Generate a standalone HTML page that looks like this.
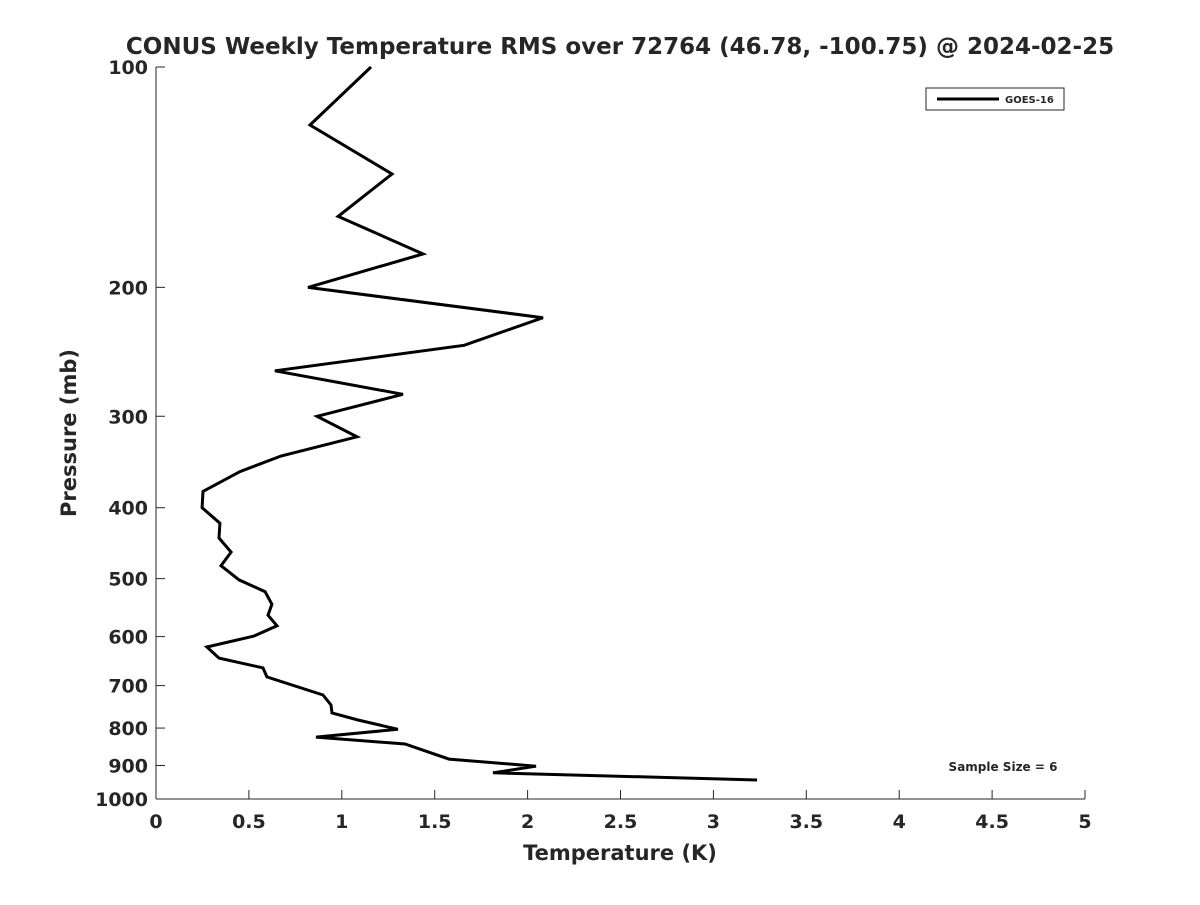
<!DOCTYPE html>
<html><head><meta charset="utf-8"><style>
body{margin:0;background:#fff;}
svg text{font-family:"DejaVu Sans","Liberation Sans",sans-serif;font-weight:bold;fill:#262626;}
</style></head><body>
<svg width="1200" height="900">
<rect width="1200" height="900" fill="#fff"/>
<g id="g"></g>
</svg>
<script>
const temps=[1.157,0.829,1.270,0.980,1.437,0.818,2.083,1.658,0.640,1.329,0.867,1.082,0.673,0.452,0.253,0.248,0.344,0.339,0.404,0.350,0.447,0.587,0.624,0.603,0.651,0.527,0.274,0.339,0.576,0.597,0.899,0.942,0.947,1.087,1.302,0.861,1.340,1.577,2.045,1.814,3.235];
const pressures=[100,120,140,160,180,200,220,240,260,280,300,320,340,357,380,400,420,440,460,480,502,521,542,561,580,599,620,642,662,681,721,744,763,780,803,823,841,882,902,921,942];
const xTicks=[0,0.5,1,1.5,2,2.5,3,3.5,4,4.5,5];
const xTickLabels=["0","0.5","1","1.5","2","2.5","3","3.5","4","4.5","5"];
const yTicks=[100,200,300,400,500,600,700,800,900,1000];
const yTickLabels=["100","200","300","400","500","600","700","800","900","1000"];
const L=156,R=1085,T=67,B=799;
function xs(v){return L+(v/5)*(R-L);}
function ys(p){return T+Math.log10(p/100)*(B-T);}
const NS="http://www.w3.org/2000/svg";
const g=document.getElementById('g');
function mk(tag,attrs,txt){const e=document.createElementNS(NS,tag);for(const k in attrs)e.setAttribute(k,attrs[k]);if(txt!==undefined)e.textContent=txt;g.appendChild(e);return e;}
let e;
e=mk('line',{x1:L,y1:T,x2:L,y2:B,stroke:'#262626','stroke-width':1});


e=mk('line',{x1:L,y1:B,x2:R,y2:B,stroke:'#262626','stroke-width':1});


xTicks.forEach((v,i)=>{
 const x=xs(v);
 e=mk('line',{x1:x,y1:B,x2:x,y2:B-9,stroke:'#262626','stroke-width':1});
 
 
 e=mk('text',{x:x,y:B+29,'text-anchor':'middle','font-size':19},xTickLabels[i]);
 
 
});
yTicks.forEach((p,i)=>{
 const y=ys(p);
 e=mk('line',{x1:L,y1:y,x2:L+9,y2:y,stroke:'#262626','stroke-width':1});
 
 
 e=mk('text',{x:L-8,y:y+7,'text-anchor':'end','font-size':19},yTickLabels[i]);
 
 
});
const pts=temps.map((t,i)=>xs(t).toFixed(1)+','+ys(pressures[i]).toFixed(1)).join(' ');
e=mk('polyline',{points:pts,fill:'none',stroke:'#000','stroke-width':3,'stroke-linejoin':'miter'});


e=mk('text',{x:620,y:54,'text-anchor':'middle','font-size':23,fill:'#000'},'CONUS Weekly Temperature RMS over 72764 (46.78, -100.75) @ 2024-02-25');


e=mk('text',{x:620,y:860,'text-anchor':'middle','font-size':21},'Temperature (K)');


e=mk('text',{x:0,y:0,'text-anchor':'middle','font-size':21,transform:'translate(76,433) rotate(-90)'},'Pressure (mb)');


e=mk('rect',{x:926,y:88,width:138,height:22,fill:'#fff',stroke:'#262626','stroke-width':1});


e=mk('line',{x1:937,y1:99,x2:999,y2:99,stroke:'#000','stroke-width':3});


e=mk('text',{x:1005,y:103,'font-size':10,fill:'#000'},'GOES-16');


e=mk('text',{x:1003,y:771,'text-anchor':'middle','font-size':12,fill:'#000'},'Sample Size = 6');


</script>
</body></html>
